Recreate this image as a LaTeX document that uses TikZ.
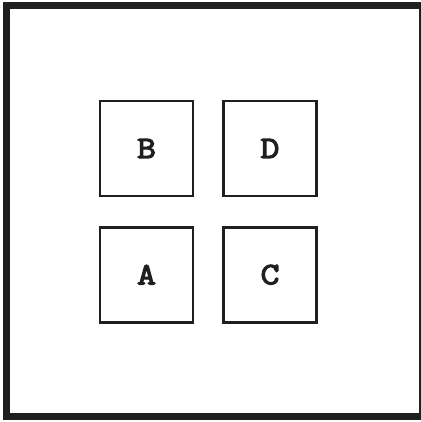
\documentclass[tikz,border=0pt]{standalone}
\usepackage{fontspec}
\newfontfamily\cellfont[FakeBold=4, FakeStretch=1.18]{Latin Modern Mono}
\usetikzlibrary{positioning}

\begin{document}
\begin{tikzpicture}[x=1pt, y=-1pt,
  cellbox/.style={rectangle, draw=black!88, line width=2.6pt,
    minimum width=93pt, minimum height=95pt, inner sep=0pt,
    font=\cellfont\fontsize{31}{31}\selectfont, text=black!88},
  framebox/.style={rectangle, draw=black!88, line width=6.5pt,
    minimum width=416pt, minimum height=411pt, inner sep=0pt}
]
\useasboundingbox (0,0) rectangle (420,422);

%% ==== Outer frame ====
\node[framebox] (frame) at (214.5,211) {};

%% ==== Cells ====
\node[cellbox] (B) at (146.5,148.5) {B};
\node[cellbox] (D) at (270.0,148.5) {D};
\node[cellbox] (A) at (146.5,274.7) {A};
\node[cellbox] (C) at (270.0,274.7) {C};

\end{tikzpicture}
\end{document}
